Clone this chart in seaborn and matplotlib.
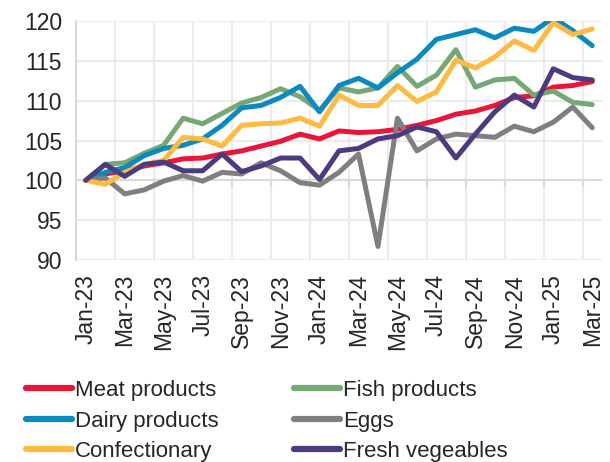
import numpy as np
import pandas as pd
import matplotlib
matplotlib.use("Agg")
import matplotlib.pyplot as plt
import seaborn as sns

# Monthly index values, Jan-23 = 100
months = ["Jan-23", "Feb-23", "Mar-23", "Apr-23", "May-23", "Jun-23", "Jul-23", "Aug-23", "Sep-23",
          "Oct-23", "Nov-23", "Dec-23", "Jan-24", "Feb-24", "Mar-24", "Apr-24", "May-24", "Jun-24",
          "Jul-24", "Aug-24", "Sep-24", "Oct-24", "Nov-24", "Dec-24", "Jan-25", "Feb-25", "Mar-25"]

meat = [100, 100.8, 101.2, 101.8, 102.2, 102.7, 102.8, 103.3, 103.7, 104.3, 104.9, 105.8, 105.2, 106.2,
        106.0, 106.1, 106.4, 106.9, 107.5, 108.3, 108.7, 109.4, 110.4, 110.6, 111.7, 111.9, 112.4]
fish = [100, 102.0, 102.2, 103.4, 104.4, 107.8, 107.1, 108.4, 109.7, 110.4, 111.5, 110.5, 108.8, 111.6,
        111.1, 111.6, 114.3, 111.8, 113.2, 116.4, 111.7, 112.6, 112.8, 110.7, 111.2, 109.8, 109.5]
dairy = [100, 101.0, 101.6, 103.1, 104.0, 104.4, 105.2, 106.9, 109.1, 109.4, 110.4, 111.8, 108.6, 111.9,
         112.8, 111.6, 113.5, 115.2, 117.7, 118.3, 118.9, 117.9, 119.1, 118.7, 120.4, 118.8, 116.9]
eggs = [100, 100.3, 98.3, 98.8, 99.9, 100.6, 99.9, 101.0, 100.8, 102.2, 101.2, 99.7, 99.4, 101.0,
        103.3, 91.7, 107.8, 103.7, 105.2, 105.8, 105.6, 105.4, 106.8, 106.1, 107.3, 109.2, 106.6]
confect = [100, 99.5, 101.0, 102.0, 102.5, 105.4, 105.2, 104.3, 106.9, 107.1, 107.2, 107.8, 106.8, 110.7,
           109.4, 109.4, 111.9, 109.9, 111.1, 115.1, 114.1, 115.5, 117.5, 116.3, 119.8, 118.3, 119.0]
veg = [100, 102.0, 100.5, 102.0, 102.3, 101.2, 101.2, 103.3, 101.1, 101.8, 102.8, 102.8, 100.1, 103.7,
       104.0, 105.2, 105.6, 106.7, 106.1, 102.8, 105.8, 108.6, 110.7, 109.2, 114.0, 112.9, 112.6]

series = {
    "Meat products": meat,
    "Fish products": fish,
    "Dairy products": dairy,
    "Eggs": eggs,
    "Confectionary": confect,
    "Fresh vegeables": veg,
}
colors = {
    "Meat products": "#E8173A",
    "Fish products": "#76A874",
    "Dairy products": "#0A8ABF",
    "Eggs": "#7F7F7F",
    "Confectionary": "#FFBB3F",
    "Fresh vegeables": "#4E3B7F",
}

rows = []
for name, vals in series.items():
    for i, v in enumerate(vals):
        rows.append({"idx": i, "value": v, "series": name})
df = pd.DataFrame(rows)

sns.set_style("white")
plt.rcParams["font.family"] = ["Liberation Sans", "DejaVu Sans"]

fig = plt.figure(figsize=(6.1, 4.62), dpi=100)
ax = fig.add_axes([76 / 610, 1 - 260 / 462, 526 / 610, 239 / 462])

sns.lineplot(data=df, x="idx", y="value", hue="series", hue_order=list(series.keys()),
             palette=colors, linewidth=3.6, ax=ax, legend=False, sort=False)

n = len(months)
ax.set_xlim(-0.5, n - 0.5)
ax.set_ylim(90, 120)
ax.set_yticks(np.arange(90, 121, 5))
ax.set_xticks(np.arange(0, n, 2))
ax.set_xticklabels(months[::2], rotation=90)
ax.set_xlabel("")
ax.set_ylabel("")

# gridlines at category boundaries
bounds = np.arange(-0.5, n - 1, 2)
for b in bounds:
    ax.axvline(b, color="#ebebeb", lw=1.5, zorder=0)
for y in np.arange(90, 121, 5):
    ax.axhline(y, color="#ebebeb", lw=1.5, zorder=0)

# horizontal axis crossing at 100 with tick marks
ax.axhline(100, color="#d9d9d9", lw=1.5, zorder=1)
ax.vlines(bounds[1:], 100, 99.2, color="#d9d9d9", lw=1.5, zorder=1)

for s in ["top", "right", "bottom"]:
    ax.spines[s].set_visible(False)
ax.spines["left"].set_color("#d9d9d9")
ax.spines["left"].set_linewidth(1.5)
ax.tick_params(axis="y", length=6, color="#d9d9d9", width=1.5, labelsize=16.5, pad=4)
ax.tick_params(axis="x", length=0, labelsize=16.5, pad=10)

order = ["Meat products", "Dairy products", "Confectionary", "Fish products", "Eggs", "Fresh vegeables"]
handles = [plt.Line2D([], [], color=colors[k], lw=4.5, solid_capstyle="round") for k in order]
fig.legend(handles, order, loc="upper left", bbox_to_anchor=(0.043, 0.177), ncol=2, frameon=False,
           fontsize=16, handlelength=2.05, handletextpad=0.15, columnspacing=3.4,
           labelspacing=0.42, borderaxespad=0, borderpad=0)

fig.savefig("out.png", dpi=100)
